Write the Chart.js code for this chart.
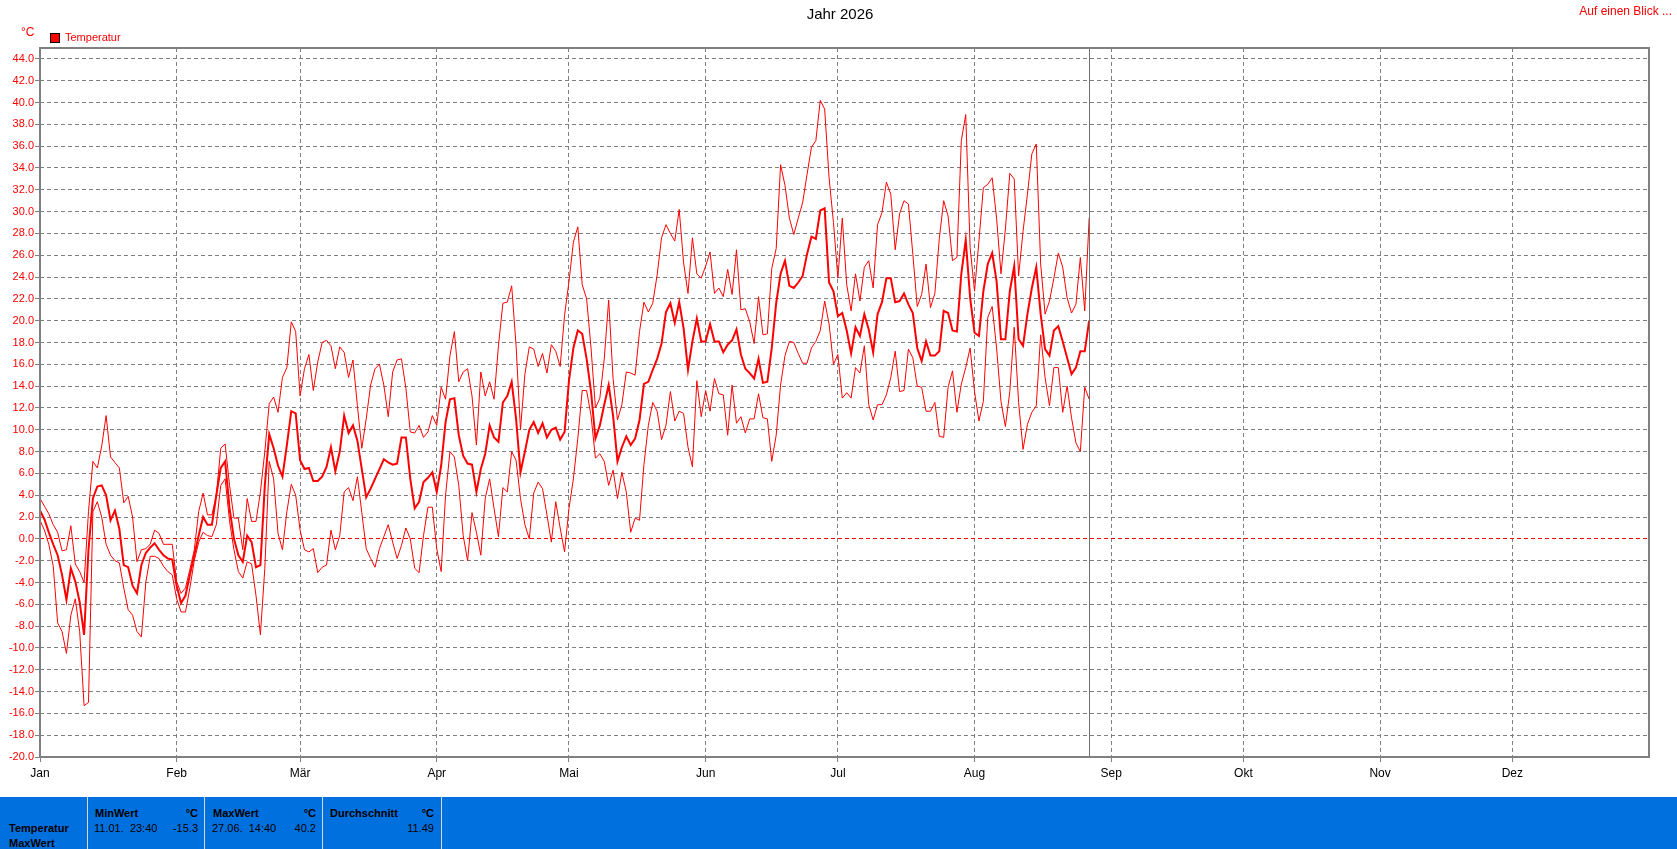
<!DOCTYPE html>
<html>
<head>
<meta charset="utf-8">
<script src="https://cdn.jsdelivr.net/npm/chart.js@4"></script>
<style>
  body { margin: 0; background: #fff; font-family: 'Liberation Sans', Arial, sans-serif; }
  #page { position: relative; width: 1677px; height: 849px; overflow: hidden; }
  #myChart { position: absolute; left: 0; top: 0; }
  .txt { position: absolute; white-space: nowrap; }
  #title { left: 0; width: 1680px; top: 5px; text-align: center; font-size: 15px; color: #000; }
  #blick { right: 5px; top: 4px; font-size: 12px; color: #f00; }
  #unit { left: 21px; top: 25px; font-size: 12px; color: #f00; }
  #legBox { position: absolute; left: 50px; top: 33px; width: 8px; height: 8px; background: #f00; border: 1px solid #000; }
  #legText { left: 65px; top: 31px; font-size: 11px; color: #f00; }
  #panel { position: absolute; left: 0; top: 797px; width: 1677px; height: 52px; background: #0070df; }
  .sep { position: absolute; top: 0; width: 1px; height: 52px; background: #d8d8d8; }
  .cell { position: absolute; font-size: 11px; color: #000; }
  .b { font-weight: bold; }
</style>
</head>
<body>
<div id="page">
  <canvas id="myChart" width="1677" height="797"></canvas>
  <div class="txt" id="title">Jahr 2026</div>
  <div class="txt" id="blick">Auf einen Blick ...</div>
  <div class="txt" id="unit">°C</div>
  <div id="legBox"></div>
  <div class="txt" id="legText">Temperatur</div>
  <div id="panel">
    <div class="sep" style="left:87px"></div>
    <div class="sep" style="left:204px"></div>
    <div class="sep" style="left:322px"></div>
    <div class="sep" style="left:441px"></div>

    <div class="cell b" style="left:9px; top:25px">Temperatur</div>
    <div class="cell b" style="left:9px; top:40px">MaxWert</div>

    <div class="cell b" style="left:95px; top:10px">MinWert</div>
    <div class="cell b" style="left:174px; width:24px; text-align:right; top:10px">°C</div>
    <div class="cell" style="left:94px; top:25px">11.01.&nbsp;&nbsp;23:40</div>
    <div class="cell" style="left:160px; width:38px; text-align:right; top:25px">-15.3</div>

    <div class="cell b" style="left:213px; top:10px">MaxWert</div>
    <div class="cell b" style="left:292px; width:24px; text-align:right; top:10px">°C</div>
    <div class="cell" style="left:212px; top:25px">27.06.&nbsp;&nbsp;14:40</div>
    <div class="cell" style="left:278px; width:38px; text-align:right; top:25px">40.2</div>

    <div class="cell b" style="left:330px; top:10px">Durchschnitt</div>
    <div class="cell b" style="left:410px; width:24px; text-align:right; top:10px">°C</div>
    <div class="cell" style="left:380px; width:54px; text-align:right; top:25px">11.49</div>
  </div>
</div>
<script>
// Monate (Tag des Jahres, an dem der Monat beginnt)
var monthLabels = ['Jan', 'Feb', 'Mär', 'Apr', 'Mai', 'Jun', 'Jul', 'Aug', 'Sep', 'Okt', 'Nov', 'Dez'];
var monthStarts = [0, 31, 59, 90, 120, 151, 181, 212, 243, 273, 304, 334];

// Tageswerte ab 1. Januar
var maxTemps = [
    3.7, 3.0, 2.3, 1.3, 0.6, -1.1, -1.0, 1.2, -2.3, -3.0,
    -4.0, 2.5, 7.1, 6.5, 8.5, 11.3, 7.5, 7.0, 6.5, 3.3,
    3.9, 2.0, -2.1, -1.0, -0.9, -0.5, 0.8, 0.5, -0.5, -0.5,
    -0.5, -3.9, -5.0, -4.5, -2.8, -1.0, 2.5, 4.2, 2.2, 2.2,
    4.0, 8.3, 8.7, 4.9, 1.9, 1.9, -1.0, 3.7, 1.6, 1.6,
    4.3, 8.0, 12.4, 13.0, 11.6, 14.8, 15.7, 19.9, 19.0, 13.1,
    15.6, 16.9, 13.6, 16.2, 18.0, 18.2, 17.7, 15.6, 17.6, 17.1,
    14.8, 16.4, 12.2, 8.3, 11.0, 14.1, 15.6, 16.0, 14.1, 11.2,
    15.3, 16.4, 16.5, 13.8, 9.8, 9.7, 10.4, 9.3, 9.8, 11.3,
    10.4, 13.9, 12.8, 16.8, 19.0, 14.4, 15.3, 15.6, 13.1, 8.6,
    15.3, 13.1, 14.4, 12.8, 17.7, 21.6, 21.7, 23.2, 17.7, 10.0,
    15.1, 17.6, 17.4, 15.8, 17.0, 15.2, 17.8, 17.2, 15.8, 20.5,
    23.6, 27.2, 28.6, 23.3, 22.0, 17.5, 12.0, 12.9, 16.5, 21.9,
    14.7, 10.9, 12.3, 15.3, 15.2, 15.0, 19.0, 21.7, 20.8, 21.6,
    24.2, 27.6, 28.8, 28.0, 27.3, 30.2, 25.3, 22.5, 27.6, 24.3,
    23.9, 25.0, 26.3, 22.5, 23.0, 22.2, 24.7, 22.4, 26.5, 21.0,
    21.1, 19.9, 17.9, 22.2, 18.7, 18.8, 24.8, 26.6, 34.3, 32.4,
    29.4, 27.9, 29.4, 30.8, 33.4, 35.9, 36.5, 40.2, 39.4, 33.1,
    29.0, 23.9, 29.4, 23.3, 20.9, 24.3, 21.8, 24.9, 25.5, 23.0,
    28.8, 29.9, 32.7, 31.6, 26.5, 29.8, 31.0, 30.7, 26.1, 21.3,
    22.4, 25.2, 21.2, 22.5, 27.5, 31.0, 29.6, 25.5, 25.8, 36.5,
    38.9, 26.7, 22.7, 27.3, 32.2, 32.5, 33.1, 29.4, 24.3, 28.4,
    33.5, 33.0, 24.1, 28.2, 31.6, 35.3, 36.2, 25.2, 20.6, 21.8,
    23.9, 26.2, 24.9, 22.1, 20.7, 21.5, 25.8, 20.9, 29.4
];

var avgTemps = [
    2.6, 1.8, 0.6, -0.5, -1.5, -3.3, -5.6, -2.7, -3.9, -5.8,
    -8.8, -1.0, 3.7, 4.8, 4.9, 4.0, 1.7, 2.6, 0.9, -2.4,
    -2.6, -4.3, -5.0, -2.4, -1.3, -0.8, -0.4, -1.0, -1.5, -1.8,
    -1.9, -4.3, -5.9, -5.2, -3.3, -1.5, 0.3, 2.0, 1.3, 1.3,
    4.0, 6.5, 7.1, 2.8, 0.0, -1.5, -2.1, 0.3, -0.3, -2.6,
    -2.4, 4.9, 9.6, 8.3, 6.7, 5.7, 8.6, 11.7, 11.5, 7.2,
    6.4, 6.5, 5.3, 5.3, 5.7, 6.6, 8.4, 6.2, 8.0, 11.3,
    9.7, 10.4, 9.0, 6.4, 3.8, 4.6, 5.5, 6.4, 7.3, 7.0,
    6.8, 6.9, 9.3, 9.3, 5.5, 2.8, 3.4, 5.2, 5.6, 6.1,
    4.3, 6.7, 10.7, 12.8, 12.9, 9.5, 7.6, 6.9, 6.8, 4.3,
    6.4, 7.8, 10.4, 9.3, 8.9, 12.5, 13.1, 14.4, 11.0, 6.1,
    8.0, 10.0, 10.7, 9.7, 10.6, 9.3, 10.0, 10.2, 9.1, 9.8,
    14.5, 17.5, 19.1, 18.8, 16.5, 13.5, 9.2, 10.4, 12.3, 14.1,
    11.3, 7.1, 8.4, 9.4, 8.6, 9.2, 10.9, 14.2, 14.4, 15.5,
    16.5, 17.9, 20.8, 21.6, 19.8, 21.7, 19.3, 15.5, 18.1, 20.2,
    18.1, 18.1, 19.7, 18.1, 18.1, 17.1, 17.8, 18.2, 19.2, 16.9,
    15.6, 15.2, 14.7, 16.5, 14.3, 14.4, 17.5, 21.6, 24.3, 25.5,
    23.2, 23.0, 23.5, 24.1, 26.1, 27.7, 27.5, 30.1, 30.3, 23.5,
    22.7, 20.4, 20.7, 19.1, 17.0, 19.4, 18.6, 20.6, 19.2, 17.1,
    20.6, 21.7, 23.9, 23.9, 21.7, 21.8, 22.5, 21.5, 20.7, 17.5,
    16.3, 18.1, 16.8, 16.8, 17.2, 20.9, 20.7, 19.1, 19.0, 24.3,
    27.4, 22.1, 18.9, 18.6, 22.7, 25.2, 26.2, 23.6, 18.3, 18.3,
    22.7, 25.0, 18.3, 17.7, 20.6, 23.0, 24.9, 20.6, 17.4, 16.8,
    19.1, 19.5, 18.1, 16.6, 15.1, 15.7, 17.2, 17.2, 20.0
];

var minTemps = [
    1.7, 0.8, -0.5, -2.5, -7.7, -8.5, -10.5, -7.0, -5.5, -8.5,
    -15.3, -15.0, 2.5, 3.4, 2.0, -0.5, -1.5, -2.0, -2.2, -4.5,
    -6.5, -7.0, -8.5, -9.0, -4.0, -1.6, -1.6, -1.8, -2.5, -3.0,
    -3.3, -5.5, -6.7, -6.7, -4.5, -2.0, -0.3, 0.6, 0.3, 0.2,
    1.3, 4.9, 5.5, 1.6, -1.0, -3.0, -3.6, -2.1, -2.3, -5.2,
    -8.8, -2.7, 7.1, 5.5, 0.5, -1.0, 2.5, 5.0, 4.0, 0.8,
    -1.0, -1.2, -0.9, -3.1, -2.6, -2.4, 0.8, -1.0, 0.3, 4.3,
    4.7, 3.5, 5.7, 2.4, -0.9, -1.8, -2.6, -0.9, 0.2, 1.3,
    -0.3, -1.8, -0.6, 1.0, 0.0, -2.7, -3.1, 0.3, 2.9, 2.9,
    -0.9, -3.0, 4.0, 8.0, 7.5, 4.9, 0.3, -2.0, 2.4, 0.6,
    -1.5, 3.7, 5.5, 2.8, 0.2, 4.7, 4.3, 8.0, 7.2, 3.7,
    1.3, 0.0, 4.2, 5.2, 4.6, 2.2, -0.3, 3.4, 1.0, -1.2,
    2.8, 5.5, 9.2, 13.6, 13.6, 11.3, 7.4, 7.8, 7.1, 4.9,
    6.3, 3.7, 6.1, 4.3, 0.6, 1.9, 1.7, 6.8, 10.4, 12.5,
    11.7, 9.1, 10.4, 13.5, 10.8, 11.7, 11.5, 8.4, 6.6, 14.5,
    11.2, 13.6, 11.7, 14.7, 13.3, 13.2, 9.5, 14.1, 10.6, 11.2,
    9.7, 11.0, 11.0, 13.3, 11.1, 11.0, 7.1, 9.5, 14.1, 16.8,
    18.1, 18.0, 17.0, 16.1, 16.1, 17.5, 18.1, 19.1, 21.8, 19.7,
    16.0, 16.9, 12.9, 13.4, 12.9, 15.7, 15.2, 17.7, 12.3, 10.9,
    12.3, 12.3, 13.2, 14.8, 17.2, 13.5, 13.6, 17.4, 16.6, 14.0,
    13.9, 11.7, 11.7, 12.5, 9.4, 9.3, 13.9, 15.4, 11.6, 14.2,
    15.7, 17.5, 13.5, 10.8, 12.6, 20.3, 21.3, 17.5, 12.6, 10.3,
    13.5, 19.4, 12.5, 8.2, 10.5, 11.6, 12.2, 18.7, 14.8, 12.2,
    15.7, 15.7, 11.6, 14.0, 11.1, 8.8, 8.0, 13.9, 12.8
];

// Beschriftung der Y-Achse
var yTicks = [];
for (var t = -20; t <= 44; t += 2) yTicks.push(t);

function toPoints(arr) {
    return arr.map(function (v, i) { return { x: i, y: v }; });
}

// Rahmen um den Plot und Linie beim letzten Tag
var framePlugin = {
    id: 'frame',
    afterDraw: function (chart) {
        var a = chart.chartArea;
        var ctx = chart.ctx;
        ctx.save();
        var xLast = chart.scales.x.getPixelForValue(maxTemps.length - 1);
        ctx.strokeStyle = '#707070';
        ctx.lineWidth = 1;
        ctx.beginPath();
        ctx.moveTo(Math.round(xLast) + 0.5, a.top);
        ctx.lineTo(Math.round(xLast) + 0.5, a.bottom);
        ctx.stroke();
        ctx.strokeStyle = '#808080';
        ctx.lineWidth = 2;
        ctx.strokeRect(a.left, a.top, a.right - a.left, a.bottom - a.top);
        ctx.restore();
    }
};

Chart.defaults.font.family = "'Liberation Sans', Arial, sans-serif";

var ctx = document.getElementById('myChart').getContext('2d');
window.myChart = new Chart(ctx, {
    type: 'line',
    data: {
        datasets: [
            { label: 'Max', data: toPoints(maxTemps), borderColor: '#ff0000', borderWidth: 1 },
            { label: 'Min', data: toPoints(minTemps), borderColor: '#ff0000', borderWidth: 1 },
            { label: 'Temperatur', data: toPoints(avgTemps), borderColor: '#ff0000', borderWidth: 2 }
        ]
    },
    options: {
        responsive: false,
        devicePixelRatio: 1,
        animation: false,
        elements: {
            point: { radius: 0 },
            line: { tension: 0, fill: false }
        },
        layout: { padding: { top: 48, right: 28, left: 0, bottom: 0 } },
        plugins: {
            legend: { display: false },
            title: { display: false },
            tooltip: { enabled: false }
        },
        scales: {
            x: {
                type: 'linear',
                min: 0,
                max: 365,
                afterBuildTicks: function (scale) {
                    scale.ticks = monthStarts.map(function (v) { return { value: v }; });
                },
                afterFit: function (scale) { scale.height = 40; },
                ticks: {
                    autoSkip: false,
                    maxRotation: 0,
                    padding: 4,
                    color: '#000',
                    font: { size: 12 },
                    callback: function (value) { return monthLabels[monthStarts.indexOf(value)]; }
                },
                grid: { color: '#808080', tickLength: 5, tickColor: '#808080', lineWidth: 1 },
                border: { display: false, dash: [4, 3] }
            },
            y: {
                min: -20,
                max: 45,
                afterBuildTicks: function (scale) {
                    scale.ticks = yTicks.map(function (v) { return { value: v }; });
                },
                afterFit: function (scale) { scale.width = 40; },
                ticks: {
                    padding: 1,
                    color: '#ff0000',
                    font: { size: 11 },
                    callback: function (value) { return value.toFixed(1); }
                },
                grid: {
                    color: function (c) { return c.tick && c.tick.value === 0 ? '#ff0000' : '#808080'; },
                    tickColor: '#808080',
                    tickLength: 5,
                    lineWidth: 1
                },
                border: { display: false, dash: [4, 3] }
            }
        }
    },
    plugins: [framePlugin]
});
</script>
</body>
</html>
